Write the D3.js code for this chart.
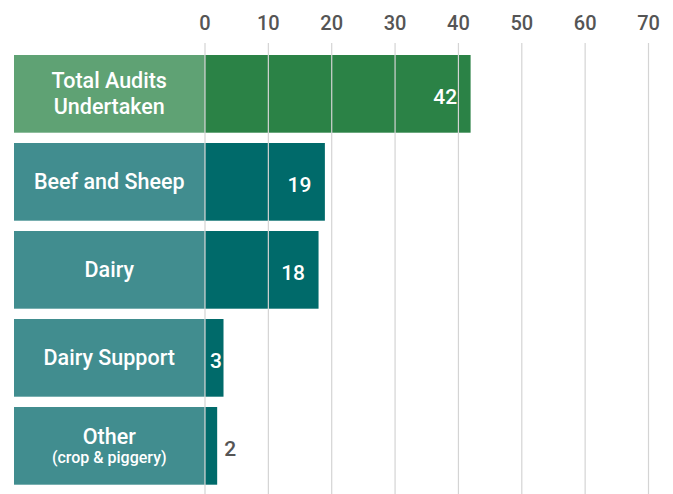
<!DOCTYPE html>
<html>
<head>
<meta charset="utf-8">
<script src="https://cdn.jsdelivr.net/npm/d3@7"></script>
<style>
  body { margin: 0; background: #fff; }
  text { font-family: Roboto, "Noto Sans", sans-serif; }
</style>
</head>
<body>
<script>
'use strict';

// chart data
const categories = ["Total Audits|Undertaken", "Beef and Sheep", "Dairy", "Dairy Support", "Other"];
const subLabels = ["", "", "", "", "(crop & piggery)"];
const values = [42, 19, 18, 3, 2];
const xTicks = [0, 10, 20, 30, 40, 50, 60, 70];

(function () {
  const width = 673, height = 494;

  const svg = d3.select("body").append("svg")
    .attr("width", width)
    .attr("height", height);

  // x scale: value -> pixel
  const x = d3.scaleLinear()
    .domain([0, 70])
    .range([204.5, 648]);

  // y scale: one band per category
  const y = d3.scaleBand()
    .domain(d3.range(categories.length))
    .range([55, 484.7])
    .paddingInner(10.3 / 88)
    .paddingOuter(0)
    .align(0);

  const labelLeft = 14;

  // label boxes on the left
  svg.selectAll(".labelBox")
    .data(values)
    .enter()
    .append("rect")
    .attr("x", labelLeft)
    .attr("y", (d, i) => y(i))
    .attr("width", x(0) - labelLeft)
    .attr("height", y.bandwidth())
    .attr("fill", (d, i) => i === 0 ? "#5fa274" : "#418d8f");

  // bars
  svg.selectAll(".bar")
    .data(values)
    .enter()
    .append("rect")
    .attr("x", x(0))
    .attr("y", (d, i) => y(i))
    .attr("width", (d) => x(d) - x(0))
    .attr("height", y.bandwidth())
    .attr("fill", (d, i) => i === 0 ? "#2b8246" : "#006a6a");

  // vertical gridlines + top tick labels
  const xAxis = d3.axisTop(x)
    .tickValues(xTicks)
    .tickSize(-(height - 43))
    .tickFormat(d3.format("d"));

  const gAxis = svg.append("g")
    .attr("transform", "translate(0, 43)")
    .call(xAxis);
  gAxis.select(".domain").remove();
  gAxis.selectAll(".tick line")
    .attr("stroke", "#d4d4d4")
    .attr("stroke-width", 1.2);
  gAxis.selectAll(".tick text")
    .attr("y", -13)
    .attr("dy", 0)
    .attr("fill", "#555")
    .style("font-size", "20px")
    .style("font-weight", 500);

  // category labels
  const fs = "21.5px";
  categories.forEach((name, i) => {
    const cx = (labelLeft + x(0)) / 2;
    const cy = y(i) + y.bandwidth() / 2;
    const lines = name.split("|");
    const t = svg.append("text")
      .attr("x", cx)
      .attr("text-anchor", "middle")
      .attr("fill", "#fff")
      .style("font-size", fs)
      .style("font-weight", 500);
    if (lines.length === 2) {
      t.attr("y", cy - 6).text(lines[0]);
      svg.append("text")
        .attr("x", cx)
        .attr("y", cy + 20)
        .attr("text-anchor", "middle")
        .attr("fill", "#fff")
        .style("font-size", fs)
        .style("font-weight", 500)
        .text(lines[1]);
    } else if (subLabels[i]) {
      t.attr("y", cy - 2).text(name);
      svg.append("text")
        .attr("x", cx)
        .attr("y", cy + 17)
        .attr("text-anchor", "middle")
        .attr("fill", "#fff")
        .style("font-size", "16px")
        .style("font-weight", 500)
        .text(subLabels[i]);
    } else {
      t.attr("y", cy + 7.5).text(name);
    }
  });

  // value labels
  values.forEach((v, i) => {
    const cy = y(i) + y.bandwidth() / 2;
    const w = x(v) - x(0);
    const t = svg.append("text")
      .attr("y", cy + 10.5)
      .style("font-size", "21px")
      .style("font-weight", 500)
      .text(v);
    if (w > 40) {
      t.attr("x", x(v) - 13.5).attr("text-anchor", "end").attr("fill", "#fff");
    } else if (w > 17) {
      t.attr("x", x(0) + 5.5).attr("text-anchor", "start").attr("fill", "#fff");
    } else {
      t.attr("x", x(v) + 7).attr("text-anchor", "start").attr("fill", "#555");
    }
  });
})();
</script>
</body>
</html>
